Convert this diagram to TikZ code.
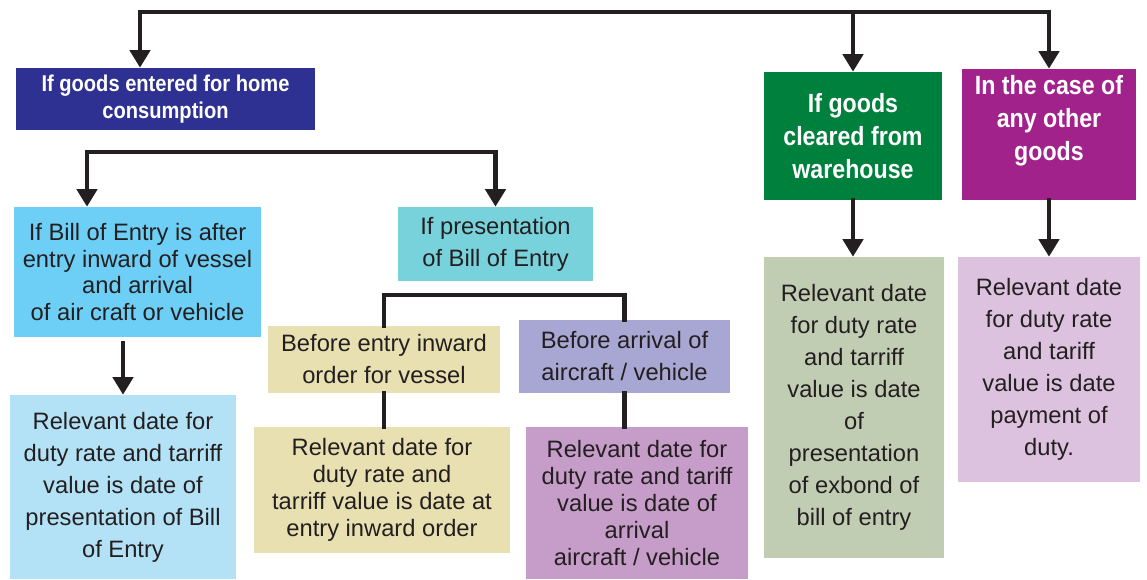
\documentclass[tikz,border=0pt]{standalone}
\usepackage{fontspec}
\setmainfont{Liberation Sans}
\newfontfamily\headfont{Liberation Sans}[FakeStretch=0.88]
\usepackage{tikz}
\usetikzlibrary{arrows.meta}
\usetikzlibrary{positioning}

\definecolor{inkgray}{HTML}{231F20}
\definecolor{homeblue}{HTML}{2E3192}
\definecolor{waregreen}{HTML}{00803D}
\definecolor{otherpurple}{HTML}{A2228C}
\definecolor{afterblue}{HTML}{6DCFF6}
\definecolor{prescyan}{HTML}{78D2DB}
\definecolor{paleblue}{HTML}{B3E2F7}
\definecolor{khaki}{HTML}{E8E0B1}
\definecolor{lavender}{HTML}{A8A6D2}
\definecolor{orchid}{HTML}{C69CC9}
\definecolor{sage}{HTML}{C1CDB3}
\definecolor{palepink}{HTML}{DCC2DF}

\begin{document}
\begin{tikzpicture}[x=0.02cm, y=-0.02cm, box/.style={rectangle, inner sep=0pt, align=center, anchor=center, text=inkgray}, head/.style={text=white, font=\headfont\bfseries\fontsize{15}{18.8}\selectfont}, tight/.style={font=\fontsize{13.5}{15.3}\selectfont}, loose/.style={font=\fontsize{13.5}{18.2}\selectfont}, link/.style={line width=2.3pt, draw=inkgray, line cap=rect}, arrow/.style={link, -{Triangle[width=11.5pt, length=10pt]}}]
\useasboundingbox (0,0) rectangle (1147,579);
\node (HOME) [box, head, font=\headfont\bfseries\fontsize{13}{15.4}\selectfont, fill=homeblue, minimum width=5.98cm, minimum height=1.24cm] at (165.5,99) {If goods entered for home\\consumption};
\node (WARE) [box, head, fill=waregreen, minimum width=3.56cm, minimum height=2.56cm] at (853,136) {If goods\\cleared from\\warehouse};
\node (OTHER) [box, head, fill=otherpurple, minimum width=3.48cm, minimum height=2.62cm] at (1049,134.5) {In the case of\\any other\\goods\\\mbox{}};
\node (AFTER) [box, tight, fill=afterblue, minimum width=4.94cm, minimum height=2.6cm] at (137.5,272) {If Bill of Entry is after\\entry inward of vessel\\and arrival\\of air craft or vehicle};
\node (PRES) [box, loose, fill=prescyan, minimum width=3.9cm, minimum height=1.48cm] at (495.5,244) {If presentation\\of Bill of Entry};
\node (DATEA) [box, loose, fill=paleblue, minimum width=4.52cm, minimum height=3.68cm] at (123,487) {Relevant date for\\duty rate and tarriff\\value is date of\\presentation of Bill\\of Entry};
\node (VESSEL) [box, loose, fill=khaki, minimum width=4.64cm, minimum height=1.34cm] at (384,359.5) {Before entry inward\\order for vessel};
\node (CRAFT) [box, loose, fill=lavender, minimum width=4.22cm, minimum height=1.46cm] at (624.5,356.5) {Before arrival of\\aircraft / vehicle};
\node (DATEV) [box, tight, fill=khaki, minimum width=5.12cm, minimum height=2.52cm] at (382,490) {Relevant date for\\duty rate and\\tarriff value is date at\\entry inward order};
\node (DATEC) [box, tight, fill=orchid, minimum width=4.44cm, minimum height=3.04cm] at (637,503) {Relevant date for\\duty rate and tariff\\value is date of\\arrival\\aircraft / vehicle};
\node (DATEW) [box, loose, fill=sage, minimum width=3.6cm, minimum height=6.02cm] at (854,407.5) {Relevant date\\for duty rate\\and tarriff\\value is date\\of\\presentation\\of exbond of\\bill of entry};
\node (DATEO) [box, loose, fill=palepink, minimum width=3.64cm, minimum height=4.5cm] at (1049,369.5) {Relevant date\\for duty rate\\and tariff\\value is date\\payment of\\duty.};
\coordinate (TOPL) at (140,12);
\coordinate (MIDL) at (87,152);
\coordinate (LOWL) at (384,295);
\draw [arrow] (OTHER.north |- TOPL) -- (TOPL) -- (TOPL |- HOME.north);
\draw [arrow] (OTHER.north |- TOPL) -- (OTHER.north);
\draw [arrow] (WARE.north |- TOPL) -- (WARE.north);
\draw [arrow] (PRES.north |- MIDL) -- (MIDL) -- (MIDL |- AFTER.north);
\draw [arrow] (PRES.north |- MIDL) -- (PRES.north);
\draw [arrow] ([yshift=-3pt]AFTER.south -| DATEA.north) -- (DATEA.north);
\draw [link] (VESSEL.north) -- (VESSEL.north |- LOWL) -- (CRAFT.north |- LOWL) -- (CRAFT.north);
\draw [link] (VESSEL.south) -- (VESSEL.south |- DATEV.north);
\draw [link] (CRAFT.south) -- (CRAFT.south |- DATEC.north);
\draw [arrow] (WARE.south) -- (WARE.south |- DATEW.north);
\draw [arrow] (OTHER.south) -- (OTHER.south |- DATEO.north);
\end{tikzpicture}
\end{document}
